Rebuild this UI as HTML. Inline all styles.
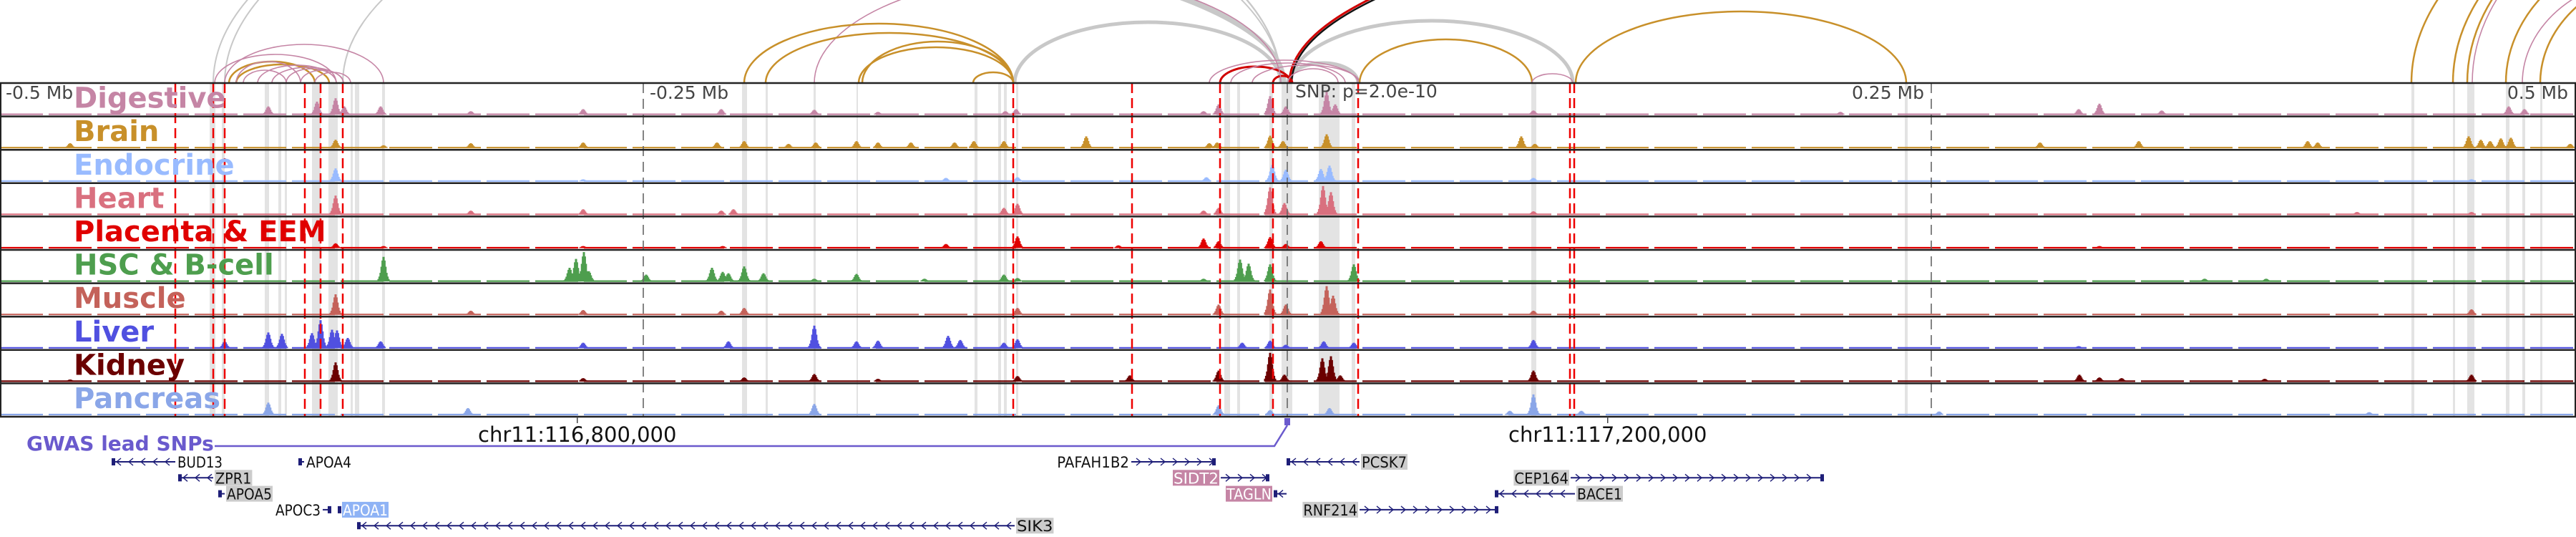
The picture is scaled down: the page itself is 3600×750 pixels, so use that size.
<!DOCTYPE html>
<html><head><meta charset="utf-8">
<style>
html,body{margin:0;padding:0;background:#fff;}
svg{display:block;}
text{font-family:"DejaVu Sans","Liberation Sans",sans-serif;}
</style></head>
<body>
<svg id="chart" width="3600" height="750" viewBox="0 0 3600 750" xmlns="http://www.w3.org/2000/svg"></svg>
<script>
// ---- data (positions in 1-Mb-window bins; 3600 bins) ----
const binCount = 3600;
const trackNames = ["Digestive","Brain","Endocrine","Heart","Placenta & EEM","HSC & B-cell","Muscle","Liver","Kidney","Pancreas"];
const trackColors = ["#c585a5","#c8902a","#99bbff","#d9707f","#e00000","#4e9e4e","#c4625a","#5050e0","#6b0000","#8aa6e8"];

const digestiveBins = [375,443,469,481,532,658,815,1008,1138,1227,1405,1420,1682,1703,1775,1797,1854,1866,2143,2572,2905,2934,3021,3506,3528];
const digestiveVals = [12,19,24,12,12,5,8,8,7,4,5,8,5,15,27,12,33,15,6,4,8,16,6,12,8];
const brainBins = [98,469,536,658,815,1002,1040,1102,1140,1197,1227,1273,1334,1361,1403,1518,1690,1701,1775,1793,1854,2126,2145,2851,2989,3225,3239,3450,3467,3480,3495,3509,3592];
const brainVals = [7,12,4,7,8,8,10,6,8,10,8,8,8,10,10,17,7,8,18,10,20,17,6,8,10,10,8,17,12,10,14,15,6];
const endocrineBins = [469,815,1322,1422,1686,1778,1797,1846,1858,2143,3454];
const endocrineVals = [19,3,5,6,6,24,17,18,23,5,3];
const heartBins = [469,658,815,1008,1025,1403,1422,1682,1703,1775,1795,1849,1860,2143,3294,3454];
const heartVals = [28,6,8,6,8,10,16,6,10,40,17,42,33,5,4,4];
const placentaBins = [469,536,815,1010,1322,1422,1563,1682,1703,1775,1797,1846,2934];
const placentaVals = [7,3,3,3,6,17,4,14,10,16,6,10,3];
const hscBins = [536,796,805,816,823,903,995,1010,1018,1040,1067,1138,1197,1292,1403,1422,1682,1733,1745,1775,1892,3081,3167];
const hscVals = [36,20,33,43,15,10,20,14,12,22,12,4,11,4,10,5,4,32,26,25,25,4,4];
const muscleBins = [469,658,815,1008,1040,1422,1703,1775,1797,1854,1863,2143,3454];
const muscleVals = [30,6,7,6,10,10,15,37,15,42,28,6,8];
const liverBins = [314,375,394,436,448,464,471,486,532,815,1018,1138,1197,1227,1325,1342,1403,1422,1736,1775,1797,1850,1892,2143,2905];
const liverVals = [10,23,21,22,41,27,26,15,10,8,10,33,10,11,18,12,8,13,8,11,5,10,8,12,3];
const kidneyBins = [98,469,815,1040,1138,1227,1422,1579,1703,1775,1795,1848,1860,1873,2143,2906,2934,2965,3165,3454];
const kidneyVals = [3,28,5,6,11,4,8,9,16,42,10,34,37,9,16,10,6,5,4,10];
const pancreasBins = [375,654,1138,1703,1775,1858,2110,2143,2210,2710,3311];
const pancreasVals = [18,10,16,14,7,10,6,30,6,5,4];

const redLineBins = [245,298,314,426,448,479,1416,1582,1705,1779,1898,2194,2200];
const bandStarts = [293,310,370,389,398,436,459,490,496,534,1037,1070,1137,1197,1362,1395,1403,1420,1711,1729,1774,1791,1843,1889,2140,2662,3370,3428,3448,3502,3525,3550];
const bandEnds   = [301,314,376,393,401,448,472,493,502,538,1044,1073,1140,1199,1366,1399,1407,1423,1719,1733,1779,1806,1872,1894,2147,2666,3374,3431,3458,3507,3529,3553];

const mbTicks = [-0.5,-0.25,0.25,0.5];
const mbTickLabels = ["-0.5 Mb","-0.25 Mb","0.25 Mb","0.5 Mb"];
const leadSnpBin = 1799;
const chrTicks = [116800000,117200000];
const chrTickLabels = ["chr11:116,800,000","chr11:117,200,000"];
const windowStartBp = 116575900;

const arcStarts = [298,314,479,-200,-150,1418,1804,1800,1805,1802,1705,1779,1690,1720,1750,1800,1138,1040,1070,1200,1205,1360,1900,2141,2202,320,330,300,314,330,360,380,400,420,340,440,3370,3428,3448,3455,3502,3525,3550];
const arcEnds   = [1790,1790,1790,1795,1795,1790,2198,1898,4000,4000,1804,1806,1898,1880,1900,1870,1790,1416,1416,1416,1416,1416,2141,2198,2664,440,460,470,536,420,470,480,470,480,400,490,4300,4200,4100,4150,4000,3900,3950];
const arcHeights= [330,330,290,237,225,85,87,28,261,266,23,10,32,28,25,20,150,83,70,50,58,15,61,13,100,30,26,40,54,30,25,22,20,18,18,15,300,280,260,270,200,150,160];
const arcTypes  = ["t","t","t","g","g","g","g","g","k","r","r","r","p","p","p","p","p","o","o","o","o","o","o","p","o","o","o","p","p","p","p","p","p","p","p","p","o","o","o","p","o","p","o"];

const geneNames = ["BUD13","APOA4","ZPR1","APOA5","APOC3","APOA1","SIK3","PAFAH1B2","PCSK7","SIDT2","TAGLN","RNF214","CEP164","BACE1"];
const geneStarts = [156,417,249,305,451,472,499,1581,1798,1706,1780,1900,2195,2089];
const geneEnds   = [245,425,298,314,463,476,1418,1699,1900,1774,1798,2094,2549,2201];
const geneStrands= ["-","-","-","-","+","-","-","+","-","+","-","+","+","-"];
const geneRows   = [0,0,1,2,3,3,4,0,0,1,2,3,1,2];
const geneLabelSide = ["r","r","r","r","l","r","r","l","r","l","l","l","l","r"];
const geneLabelBg = ["","","#cccccc","#cccccc","","#8fb3f5","#cccccc","","#cccccc","#c585a5","#c585a5","#cccccc","#cccccc","#cccccc"];

// ---- scales ----
const W = 3600;
const xScale = b => b * W / binCount;
const mbScale = mb => xScale(leadSnpBin + mb * binCount);
const bpScale = bp => xScale((bp - windowStartBp) / (1e6 / binCount));
const trackTop = 116, trackH = 46.6, nTracks = 10;
const trackBottom = trackTop + trackH * nTracks;
const yVal = v => v * 42 / 44;
const rowY = r => 645 + r * 22.3;

const NS = "http://www.w3.org/2000/svg";
const svg = document.getElementById("chart");
function mk(tag, attrs, parent) {
  const e = document.createElementNS(NS, tag);
  for (const k in attrs) e.setAttribute(k, attrs[k]);
  (parent || svg).appendChild(e);
  return e;
}

// ---- arcs ----
const defs = mk("defs", {});
const cp = mk("clipPath", {id: "arcclip"}, defs);
mk("rect", {x: 0, y: 0, width: W, height: trackTop}, cp);
const arcG = mk("g", {"clip-path": "url(#arcclip)"});


const arcColor = {g: "#c8c8c8", t: "#c8c8c8", k: "#111111", r: "#d00000", p: "#c585a5", o: "#c8902a"};
const arcWidth = {g: 5, t: 2, k: 2.5, r: 3, p: 1.6, o: 2.5};
for (let i = 0; i < arcStarts.length; i++) {
  const x1 = xScale(arcStarts[i]), x2 = xScale(arcEnds[i]);
  const rx = (x2 - x1) / 2, ry = arcHeights[i];
  const p = mk("path", {d: `M${x1},${trackTop} A${rx},${ry} 0 0 1 ${x2},${trackTop}`, fill: "none", stroke: arcColor[arcTypes[i]], "stroke-width": arcWidth[arcTypes[i]]}, arcG);
  
  
}

// ---- highlight bands ----
for (let i = 0; i < bandStarts.length; i++) {
  const r = mk("rect", {x: xScale(bandStarts[i]), y: trackTop, width: Math.max(2, xScale(bandEnds[i]) - xScale(bandStarts[i])), height: trackBottom - trackTop, fill: "#e3e3e3"});
  
  
}

// ---- tracks ----
const trackBins = [digestiveBins, brainBins, endocrineBins, heartBins, placentaBins, hscBins, muscleBins, liverBins, kidneyBins, pancreasBins];
const trackVals = [digestiveVals, brainVals, endocrineVals, heartVals, placentaVals, hscVals, muscleVals, liverVals, kidneyVals, pancreasVals];
const shape = [0.1, 0.2, 0.35, 0.6, 0.85, 1, 0.85, 0.6, 0.35, 0.2, 0.1];
for (let t = 0; t < nTracks; t++) {
  const top = trackTop + t * trackH, base = top + trackH - 2.5;
  const g = mk("g", {});
  
  
  mk("line", {x1: 0, x2: W, y1: base - 0.5, y2: base - 0.5, stroke: trackColors[t], "stroke-width": 2.2, "stroke-dasharray": "60 8"}, g);
  const bins = trackBins[t], vals = trackVals[t];
  for (let i = 0; i < bins.length; i++) {
    for (let k = 0; k < shape.length; k++) {
      const h = yVal(vals[i]) * shape[k];
      if (h < 1) continue;
      const b = mk("rect", {x: xScale(bins[i] + (k - 5) * 1.4) - 1.5, y: base - h, width: 3, height: h, fill: trackColors[t]}, g);
      
      
    }
  }
}

// ---- vertical markers ----
for (const b of redLineBins) {
  const l = mk("line", {x1: xScale(b), x2: xScale(b), y1: trackTop, y2: trackBottom, stroke: "#ee0000", "stroke-width": 2.5, "stroke-dasharray": "14 7"});
  
  
}
for (const mb of [-0.25, 0, 0.25]) {
  const l = mk("line", {x1: mbScale(mb), x2: mbScale(mb), y1: trackTop, y2: trackBottom, stroke: "#666", "stroke-width": 1.6, "stroke-dasharray": "14 8"});
  
  
}

// ---- track frame lines ----
for (let t = 0; t <= nTracks; t++) {
  const y = trackTop + t * trackH;
  mk("line", {x1: 0, x2: W, y1: y, y2: y, stroke: "#222", "stroke-width": 2.5});
}
mk("line", {x1: 1, x2: 1, y1: trackTop, y2: trackBottom, stroke: "#222", "stroke-width": 2});
mk("line", {x1: W - 1, x2: W - 1, y1: trackTop, y2: trackBottom, stroke: "#222", "stroke-width": 2});

// ---- track labels ----
for (let t = 0; t < nTracks; t++) {
  const tx = mk("text", {x: 103, y: trackTop + t * trackH + trackH - 12, fill: trackColors[t], "font-size": 40, "font-weight": "bold"});
  tx.textContent = trackNames[t];
  
  
}

// ---- Mb tick labels ----
for (let i = 0; i < mbTicks.length; i++) {
  const x = mbScale(mbTicks[i]);
  let anchor = "start", xx = x + 9;
  if (mbTicks[i] > 0) { anchor = "end"; xx = x - 10; }
  const tx = mk("text", {x: xx, y: 138, fill: "#444", "font-size": 25, "text-anchor": anchor});
  tx.textContent = mbTickLabels[i];
  
  
}
const snpT = mk("text", {x: xScale(leadSnpBin) + 11, y: 136, fill: "#444", "font-size": 25});
snpT.textContent = "SNP: p=2.0e-10";



// ---- chromosome coordinate ticks ----
for (let i = 0; i < chrTicks.length; i++) {
  const x = bpScale(chrTicks[i]);
  mk("line", {x1: x, x2: x, y1: trackBottom, y2: trackBottom + 9, stroke: "#444", "stroke-width": 1.5});
  const tx = mk("text", {x: x, y: 617, fill: "#111", "font-size": 29, "text-anchor": "middle"});
  tx.textContent = chrTickLabels[i];
  
  
}

// ---- GWAS lead SNP track ----
const gw = mk("text", {x: 37, y: 629, fill: "#6a5acd", "font-size": 28, "font-weight": "bold"});
gw.textContent = "GWAS lead SNPs";


const sx = xScale(leadSnpBin);
const gp = mk("path", {d: `M300,623 L${sx - 18},623 L${sx},594`, fill: "none", stroke: "#6a5acd", "stroke-width": 2.5});


const gr = mk("rect", {x: sx - 4, y: 584, width: 8, height: 10, fill: "#6a5acd"});



// ---- genes ----
for (let i = 0; i < geneNames.length; i++) {
  const g = mk("g", {});
  
  
  const x1 = xScale(geneStarts[i]), x2 = xScale(geneEnds[i]), y = rowY(geneRows[i]);
  mk("line", {x1: x1, x2: x2, y1: y, y2: y, stroke: "#1e1e78", "stroke-width": 2}, g);
  const dir = geneStrands[i] === "+" ? 1 : -1;
  for (let cx = x1 + 10; cx < x2 - 4; cx += 17) {
    mk("polyline", {points: `${cx - 3 * dir},${y - 5} ${cx + 3 * dir},${y} ${cx - 3 * dir},${y + 5}`, fill: "none", stroke: "#1e1e78", "stroke-width": 1.4}, g);
  }
  const ex = dir > 0 ? x2 - 5 : x1;
  mk("rect", {x: ex, y: y - 5, width: 5, height: 10, fill: "#1e1e78"}, g);
  const fs = 21;
  const tw = geneNames[i].length * 12.6;
  const lx = geneLabelSide[i] === "r" ? x2 + 3 : x1 - 3 - tw;
  if (geneLabelBg[i]) mk("rect", {x: lx - 1, y: y - 11, width: tw + 2, height: 22, fill: geneLabelBg[i]}, g);
  const tx = mk("text", {x: lx, y: y + 8, "font-size": fs, fill: (geneLabelBg[i] === "#c585a5" || geneLabelBg[i] === "#8fb3f5") ? "#fff" : "#111", textLength: tw, lengthAdjust: "spacingAndGlyphs"}, g);
  tx.textContent = geneNames[i];
}
</script>
</body></html>
